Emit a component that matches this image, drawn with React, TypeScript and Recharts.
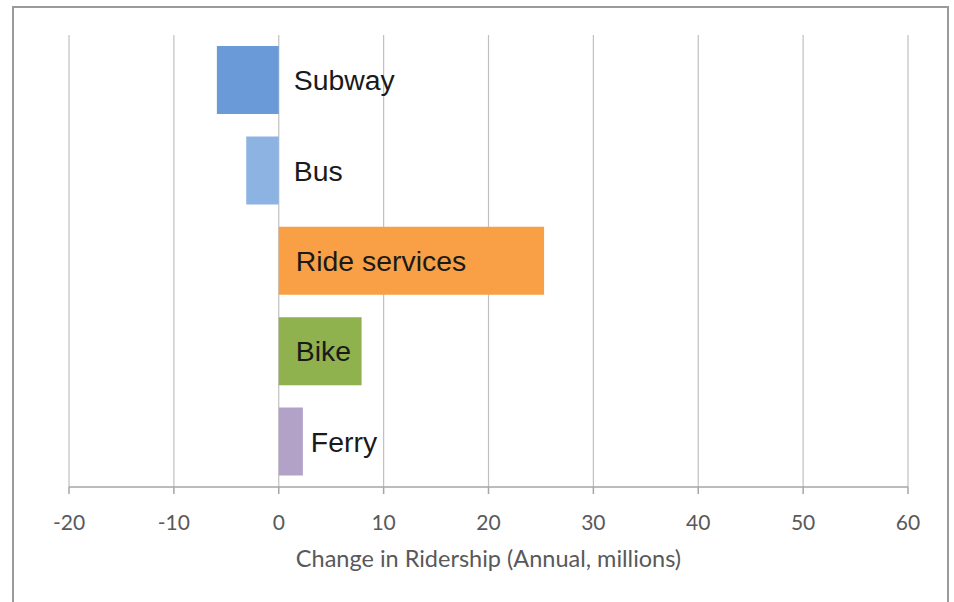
import React from 'react';
import { BarChart, Bar, XAxis, YAxis, CartesianGrid, Cell, LabelList } from 'recharts';

const categories = ['Subway', 'Bus', 'Ride services', 'Bike', 'Ferry'];
const values = [-5.9, -3.1, 25.3, 7.9, 2.3];
const colors = ['#6A9BD8', '#8DB3E3', '#F9A046', '#8FB14E', '#B3A2C8'];
const xTicks = [-20, -10, 0, 10, 20, 30, 40, 50, 60];

const data = categories.map((name, i) => ({ name, value: values[i] }));

const LABEL_FS = 28.4;

const renderLabel = (props: any) => {
  const { x, y, width, height, value, index } = props;
  const name = categories[index];
  const left = Math.min(x, x + width);
  const right = Math.max(x, x + width);
  const w = Math.abs(width);
  const cy = y + height / 2;
  const textW = name.length * 0.55 * LABEL_FS;
  let tx: number;
  if (value < 0) {
    tx = right + 15;
  } else if (w > textW + 20) {
    tx = left + 17;
  } else {
    tx = right + 8;
  }
  return (
    <text
      x={tx}
      y={cy + 0.36 * LABEL_FS}
      fontFamily="'Liberation Sans', Arial, sans-serif"
      fontSize={LABEL_FS}
      fill="#1a1a1a"
      textAnchor="start"
    >
      {name}
    </text>
  );
};

export default function App() {
  return (
    <div
      style={{
        position: 'absolute',
        left: 0,
        top: 0,
        width: 954,
        height: 602,
        overflow: 'hidden',
        background: '#fff',
      }}
    >
      <div
        style={{
          position: 'absolute',
          left: 12,
          top: 6,
          width: 937,
          height: 640,
          border: '2px solid #9a9a9a',
          boxSizing: 'border-box',
        }}
      />
      <div style={{ position: 'absolute', left: 0, top: 0 }}>
        <BarChart
          width={954}
          height={602}
          data={data}
          layout="vertical"
          margin={{ top: 35, right: 46, bottom: 0, left: 69 }}
        >
          <CartesianGrid horizontal={false} stroke="#c0c0c0" strokeWidth={1.2} />
          <XAxis
            type="number"
            domain={[-20, 60]}
            ticks={xTicks}
            interval={0}
            height={115}
            tickSize={7}
            tickMargin={21}
            axisLine={{ stroke: '#a6a6a6', strokeWidth: 1.5 }}
            tickLine={{ stroke: '#a6a6a6', strokeWidth: 1.5 }}
            tick={{ fill: '#595959', fontSize: 21, fontFamily: 'Lato, sans-serif' }}
            label={{
              value: 'Change in Ridership (Annual, millions)',
              position: 'insideBottom',
              offset: 35,
              fill: '#595959',
              fontSize: 23.5,
              fontFamily: 'Lato, sans-serif',
            }}
          />
          <YAxis type="category" dataKey="name" hide width={0} />
          <Bar dataKey="value" barSize={68} isAnimationActive={false}>
            {data.map((d, i) => (
              <Cell key={d.name} fill={colors[i]} />
            ))}
            <LabelList dataKey="value" content={renderLabel} />
          </Bar>
        </BarChart>
      </div>
    </div>
  );
}
